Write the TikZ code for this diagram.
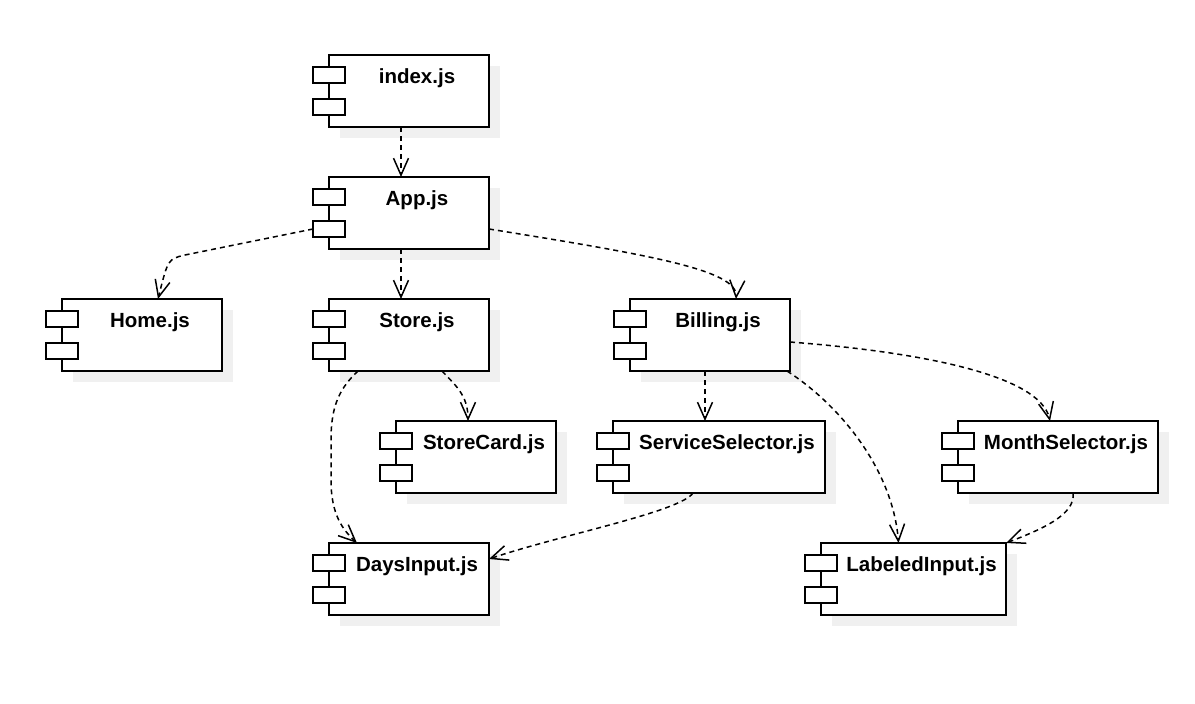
\documentclass[tikz,border=0pt]{standalone}
\usepackage{fontspec}
\setmainfont{Liberation Sans}
\usepackage{tikz}
\usetikzlibrary{arrows.meta,calc,positioning}
\usepackage{xcolor}
\definecolor{shadowgrey}{HTML}{F0F0F0}

\tikzset{
  compbox/.style={draw, line width=1.5pt, fill=white, minimum height=72pt, inner sep=0pt, outer sep=0pt},
  comppart/.style={draw, line width=1.5pt, fill=white, minimum width=32pt, minimum height=16pt, inner sep=0pt, outer sep=0pt},
  complabel/.style={font=\fontsize{20.5}{24}\selectfont\bfseries, anchor=base, inner sep=0pt},
  dep/.style={line width=1.5pt, dash pattern=on 5pt off 4pt, -{Straight Barb[length=17pt,width=15pt]}}
}

% component: name, left, top, width, label
\newcommand{\umlcomponent}[5]{%
  \fill[shadowgrey] (#2+27,#3+11) rectangle ++(#4-16,72);
  \node[compbox, minimum width={(#4-16)*1pt}, anchor=north west] (#1) at (#2+16,#3) {};
  \node[comppart, anchor=north west] (#1-a) at (#2,#3+12) {};
  \node[comppart, anchor=north west] (#1-b) at (#2,#3+44) {};
  \node[complabel] (#1-t) at ({#2+(#4+32)/2},#3+28) {#5};
}

\begin{document}
\begin{tikzpicture}[x=1pt, y=-1pt]
\useasboundingbox (0,0) rectangle (1195,704);

    \umlcomponent{index}{313}{55}{176}{index.js}
    \umlcomponent{app}{313}{177}{176}{App.js}
    \umlcomponent{home}{46}{299}{176}{Home.js}
    \umlcomponent{store}{313}{299}{176}{Store.js}
    \umlcomponent{billing}{614}{299}{176}{Billing.js}
    \umlcomponent{storecard}{380}{421}{176}{StoreCard.js}
    \umlcomponent{servsel}{597}{421}{228}{ServiceSelector.js}
    \umlcomponent{monthsel}{942}{421}{216}{MonthSelector.js}
    \umlcomponent{daysin}{313}{543}{176}{DaysInput.js}
    \umlcomponent{labeled}{805}{543}{201}{LabeledInput.js}

    % dependencies
    \draw[dep] ([xshift=-8pt]index.south) -- ([xshift=-8pt]app.north);
    \draw[dep] (app-b.west) -- (185,255) .. controls (168,259) .. ([xshift=16pt]home.north);
    \draw[dep] ([xshift=-8pt]app.south) -- ([xshift=-8pt]store.north);
    \draw[dep] ([yshift=-16pt]app.east) .. controls (650,255) and (738,270) .. ([xshift=26pt]billing.north);

    \draw[dep] ([xshift=33pt]store.south) .. controls (455,385) and (468,395) .. ([xshift=-8pt]storecard.north);
    \draw[dep] ([xshift=-51pt]store.south) .. controls (340,388) and (331,405) .. (331,440) -- (331,480) .. controls (331,515) and (343,530) .. ([xshift=-52pt]daysin.north);

    \draw[dep] ([xshift=-5pt]billing.south) -- ([xshift=-5pt]billing.south |- servsel.north);
    \draw[dep] ([yshift=-7pt]billing.east) .. controls (920,352) and (1040,375) .. ([xshift=-8pt]monthsel.north);
    \draw[dep] ([xshift=-3pt]billing.south east) .. controls (840,405) and (893,470) .. ([xshift=-15pt]labeled.north);

    \draw[dep] ([xshift=-26pt]servsel.south) .. controls (680,512) and (560,535) .. ([yshift=20pt]daysin.east);
    \draw[dep] ([xshift=15pt]monthsel.south) .. controls (1076,515) and (1040,530) .. (labeled.north east);

\end{tikzpicture}
\end{document}
